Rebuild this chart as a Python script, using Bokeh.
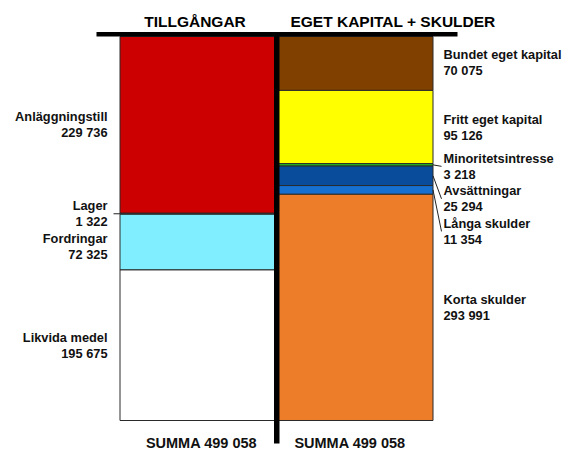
from bokeh.plotting import figure
from bokeh.models import Range1d
from bokeh.core.properties import value
from bokeh.embed import file_html
from bokeh.resources import INLINE

# ---------------- data ----------------
titles = ["TILLGÅNGAR", "EGET KAPITAL + SKULDER"]

asset_names = ["Anläggningstill", "Lager", "Fordringar", "Likvida medel"]
asset_values = [229736, 1322, 72325, 195675]
asset_colors = ["#CC0000", "#3A3A3A", "#80EEFF", "#FFFFFF"]

liab_names = ["Bundet eget kapital", "Fritt eget kapital", "Minoritetsintresse",
              "Avsättningar", "Långa skulder", "Korta skulder"]
liab_values = [70075, 95126, 3218, 25294, 11354, 293991]
liab_colors = ["#804000", "#FFFF00", "#22BB22", "#0A4C9C", "#1670D0", "#EE7D2A"]

# label placement (screen px offset of label block from segment middle) and leader flags
asset_label_off = [0, 0, 4, 0]
asset_leader = [False, True, False, False]
liab_label_off = [-1, 0, 1.5, 23, 41.5, 0]
liab_leader = [False, False, True, True, True, False]


def fmt(v):
    return f"{v:,}".replace(",", " ")


total_assets = sum(asset_values)
total_liab = sum(liab_values)

# ---------------- layout (screen pixels) ----------------
W, H = 569, 454
Y_TOP, Y_BOT = 36, 420
k = (Y_BOT - Y_TOP) / total_assets      # px per unit


def v(py):
    """screen pixel y -> data value"""
    return (Y_BOT - py) / k


p = figure(width=W, height=H, x_range=Range1d(0, W), y_range=Range1d(v(H), v(0)),
           toolbar_location=None, output_backend="svg", min_border=0,
           x_axis_location=None, y_axis_location=None)
p.grid.visible = False
p.outline_line_color = None
p.background_fill_color = "white"

FONT = value("Liberation Sans")
TXT = "#111111"
LBL_SIZE = "12.8px"


def stack(values):
    tops, bottoms = [], []
    cur = sum(values)
    for val in values:
        tops.append(cur)
        cur -= val
        bottoms.append(cur)
    return tops, bottoms


def draw_column(names, values, colors, offs, leaders, x0, x1, side):
    tops, bottoms = stack(values)
    p.quad(left=x0, right=x1, top=tops, bottom=bottoms, fill_color=colors,
           line_color="#2A2A2A", line_width=1)
    if side == "left":
        lx, align, edge, lead_end = 107, "right", x0, 113
    else:
        lx, align, edge, lead_end = 443, "left", x1, 441
    name_y, val_y, ldr = [], [], []
    for n, val, t, b, off, led in zip(names, values, tops, bottoms, offs, leaders):
        mid = (t + b) / 2
        center = mid - off / k
        name_y.append(center + 8 / k)
        val_y.append(center - 8 / k)
        if led:
            ldr.append((edge, mid, lead_end, center))
    p.text(x=[lx] * len(names), y=name_y, text=names, text_font=FONT,
           text_font_style="bold", text_font_size=LBL_SIZE, text_align=align,
           text_baseline="middle", text_color=TXT)
    p.text(x=[lx] * len(names), y=val_y, text=[fmt(x) for x in values], text_font=FONT,
           text_font_style="bold", text_font_size=LBL_SIZE, text_align=align,
           text_baseline="middle", text_color=TXT)
    if ldr:
        p.segment(x0=[a[0] for a in ldr], y0=[a[1] for a in ldr],
                  x1=[a[2] for a in ldr], y1=[a[3] for a in ldr],
                  line_color="#222222", line_width=1)


draw_column(asset_names, asset_values, asset_colors, asset_label_off, asset_leader,
            119.5, 276, "left")
draw_column(liab_names, liab_values, liab_colors, liab_label_off, liab_leader,
            276, 432.5, "right")

# T-frame: top bar and centre bar
p.quad(left=96, right=457, top=v(31.5), bottom=v(36), fill_color="black", line_color=None)
p.quad(left=273.5, right=279, top=v(31.5), bottom=v(443), fill_color="black", line_color=None)

# headings
p.text(x=[194.5, 392.5], y=[v(21), v(21)], text=titles, text_font=FONT,
       text_font_style="bold", text_font_size="15.5px", text_align="center",
       text_baseline="middle", text_color="black")

# totals
p.text(x=[201, 349.5], y=[v(442), v(442)],
       text=["SUMMA " + fmt(total_assets), "SUMMA " + fmt(total_liab)], text_font=FONT,
       text_font_style="bold", text_font_size="14.5px", text_align="center",
       text_baseline="middle", text_color=TXT)

open("out.html", "w").write(file_html(p, INLINE))
